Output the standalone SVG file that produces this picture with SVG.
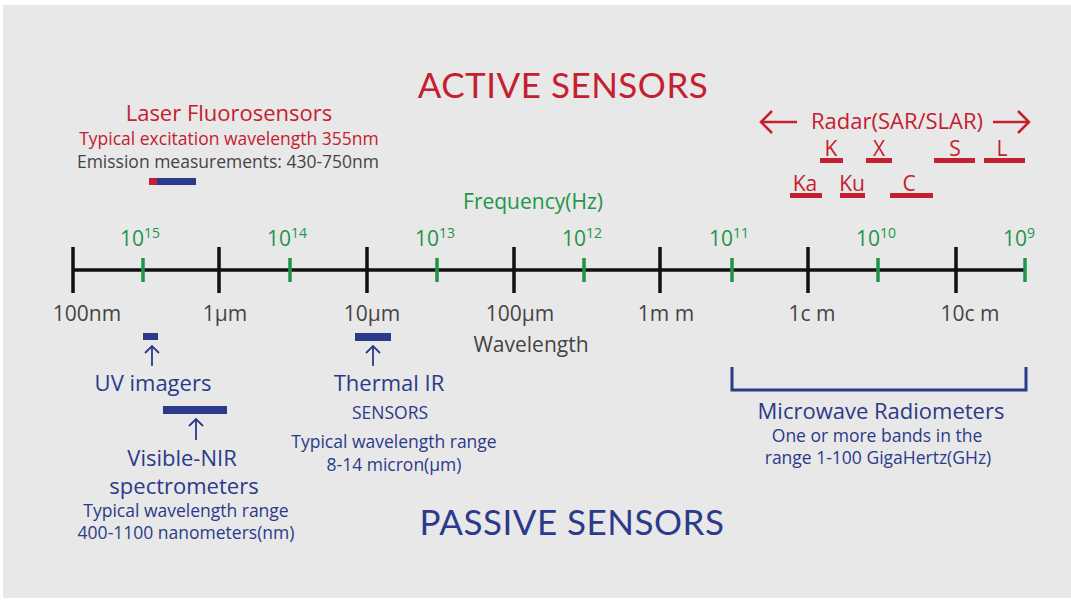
<svg xmlns="http://www.w3.org/2000/svg" width="1071" height="603" viewBox="0 0 1071 603">
<defs>
<style>
text{font-family:"Open Sans","Noto Sans",sans-serif;text-anchor:middle}
.red{fill:#c4202f}
.blue{fill:#2b3a8a}
.gray{fill:#444}
.green{fill:#1e9648}
.title{font-family:"Lato","Noto Sans",sans-serif;font-size:35px;letter-spacing:0.5px}
.lg{font-size:22px}
.md{font-size:17.5px}
.ax{font-size:21px}
.bk{stroke:#111;stroke-width:3.5}
.gt{stroke:#1e9648;stroke-width:3.5}
.rb{fill:#c4202f}
.bb{fill:#2b3a8a}
.arr{stroke:#2b3a8a;stroke-width:1.8;fill:none}
.rarr{stroke:#c4202f;stroke-width:2.5;fill:none}
</style>
</defs>
<rect x="0" y="0" width="1071" height="603" fill="#ffffff"/>
<rect x="3" y="5" width="1068" height="593" fill="#e8e8e8"/>

<g id="titles">
<text class="title red" x="563" y="98">ACTIVE SENSORS</text>
<text class="title blue" x="572" y="535">PASSIVE SENSORS</text>
</g>

<g id="axis">
<line class="bk" x1="73" y1="270" x2="1026" y2="270"/>
<line class="bk" x1="73" y1="247" x2="73" y2="293"/>
<line class="bk" x1="219" y1="247" x2="219" y2="293"/>
<line class="bk" x1="367" y1="247" x2="367" y2="293"/>
<line class="bk" x1="514" y1="247" x2="514" y2="293"/>
<line class="bk" x1="660" y1="247" x2="660" y2="293"/>
<line class="bk" x1="808" y1="247" x2="808" y2="293"/>
<line class="bk" x1="956" y1="247" x2="956" y2="293"/>
<line class="gt" x1="143" y1="258" x2="143" y2="282"/>
<line class="gt" x1="290" y1="258" x2="290" y2="282"/>
<line class="gt" x1="437" y1="258" x2="437" y2="282"/>
<line class="gt" x1="584" y1="258" x2="584" y2="282"/>
<line class="gt" x1="732" y1="258" x2="732" y2="282"/>
<line class="gt" x1="878" y1="258" x2="878" y2="282"/>
<line class="gt" x1="1025" y1="258" x2="1025" y2="282"/>
<text class="green ax" x="533" y="209">Frequency(Hz)</text>
<text class="green ax" x="140" y="246">10<tspan font-size="14" dy="-8">15</tspan></text>
<text class="green ax" x="287" y="246">10<tspan font-size="14" dy="-8">14</tspan></text>
<text class="green ax" x="435" y="246">10<tspan font-size="14" dy="-8">13</tspan></text>
<text class="green ax" x="582" y="246">10<tspan font-size="14" dy="-8">12</tspan></text>
<text class="green ax" x="729" y="246">10<tspan font-size="14" dy="-8">11</tspan></text>
<text class="green ax" x="876" y="246">10<tspan font-size="14" dy="-8">10</tspan></text>
<text class="green ax" x="1019" y="246">10<tspan font-size="14" dy="-8">9</tspan></text>
<text class="gray ax" x="87" y="321">100nm</text>
<text class="gray ax" x="225" y="321">1μm</text>
<text class="gray ax" x="372" y="321">10μm</text>
<text class="gray ax" x="520" y="321">100μm</text>
<text class="gray ax" x="666" y="321">1m m</text>
<text class="gray ax" x="812" y="321">1c m</text>
<text class="gray ax" x="970" y="321">10c m</text>
<text class="gray ax" x="531" y="352">Wavelength</text>
</g>

<g id="laser">
<text class="red lg" x="229" y="121">Laser Fluorosensors</text>
<text class="red md" x="229" y="145">Typical excitation wavelength 355nm</text>
<text class="gray md" x="228" y="168">Emission measurements: 430-750nm</text>
<rect class="rb" x="149" y="178" width="8" height="7"/>
<rect class="bb" x="157" y="178" width="39" height="7"/>
</g>

<g id="radar">
<text class="red lg" x="897" y="129">Radar(SAR/SLAR)</text>
<path class="rarr" d="M797 122 H761 M772 111 L761 122 L772 133"/>
<path class="rarr" d="M993 122 H1029 M1018 111 L1029 122 L1018 133"/>
<text class="red ax" x="831" y="156">K</text>
<rect class="rb" x="820" y="158" width="23" height="5"/>
<text class="red ax" x="879" y="156">X</text>
<rect class="rb" x="866" y="158" width="26" height="5"/>
<text class="red ax" x="955" y="156">S</text>
<rect class="rb" x="934" y="158" width="41" height="5"/>
<text class="red ax" x="1002" y="156">L</text>
<rect class="rb" x="984" y="158" width="41" height="5"/>
<text class="red ax" x="805" y="191">Ka</text>
<rect class="rb" x="790" y="193" width="32" height="5"/>
<text class="red ax" x="852" y="191">Ku</text>
<rect class="rb" x="840" y="193" width="25" height="5"/>
<text class="red ax" x="909" y="191">C</text>
<rect class="rb" x="890" y="193" width="43" height="5"/>
</g>

<g id="uv">
<rect class="bb" x="143" y="333" width="15" height="7"/>
<path class="arr" d="M152 366 V346 M145 353 L152 346 L159 353"/>
<text class="blue lg" x="153" y="391">UV imagers</text>
</g>

<g id="visnir">
<rect class="bb" x="163" y="406" width="64" height="8"/>
<path class="arr" d="M196 440 V419 M189 426 L196 419 L203 426"/>
<text class="blue lg" x="182" y="466">Visible-NIR</text>
<text class="blue lg" x="184" y="494">spectrometers</text>
<text class="blue md" x="186" y="517">Typical wavelength range</text>
<text class="blue md" x="186" y="539">400-1100 nanometers(nm)</text>
</g>

<g id="thermal">
<rect class="bb" x="355" y="333" width="36" height="8"/>
<path class="arr" d="M373 366 V346 M366 353 L373 346 L380 353"/>
<text class="blue lg" x="389" y="391">Thermal IR</text>
<text class="blue md" x="390" y="419">SENSORS</text>
<text class="blue md" x="394" y="448">Typical wavelength range</text>
<text class="blue md" x="394" y="471">8-14 micron(μm)</text>
</g>

<g id="microwave">
<path d="M732 367 V390 H1026 V367" stroke="#2b3a8a" stroke-width="3" fill="none"/>
<text class="blue lg" x="881" y="419">Microwave Radiometers</text>
<text class="blue md" x="877" y="442">One or more bands in the</text>
<text class="blue md" x="878" y="464">range 1-100 GigaHertz(GHz)</text>
</g>
</svg>
